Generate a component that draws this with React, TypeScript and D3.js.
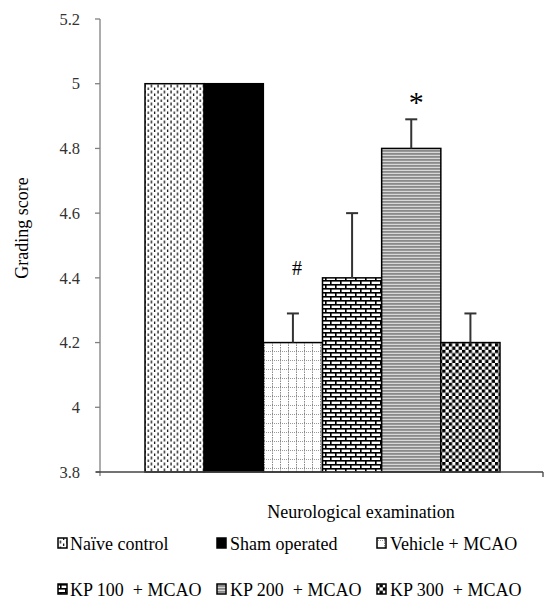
import React from "react";
import * as d3 from "d3";

const categories = ["Naïve control", "Sham operated", "Vehicle + MCAO", "KP 100  + MCAO", "KP 200  + MCAO", "KP 300  + MCAO"];
const values = [5.0, 5.0, 4.2, 4.4, 4.8, 4.2];
const errors = [0, 0, 0.09, 0.2, 0.09, 0.09];
const marks = ["", "", "#", "", "*", ""];
const yTicks = [3.8, 4, 4.2, 4.4, 4.6, 4.8, 5, 5.2];
const fills = ["url(#pDash)", "#000", "url(#pGrid)", "url(#pBrick)", "url(#pStripe)", "url(#pCheck)"];

const W = 554, H = 599;
const FONT = "'Liberation Serif', 'Times New Roman', serif";

export default function App() {
  const y = d3.scaleLinear().domain([3.8, 5.2]).range([472, 19]);
  const x = d3.scaleBand<string>().domain(categories).range([145, 500]).padding(0);
  const bw = x.bandwidth();
  const legendX = [58, 217, 377];
  const legendTextX = [70, 230, 390];
  const legendY = [550, 596];

  return (
    <svg width={W} height={H} style={{ position: "absolute", left: 0, top: 0, background: "#fff" }}>
      <defs>
        <pattern id="pDash" width="6.5" height="6" patternUnits="userSpaceOnUse">
          <rect width="6.5" height="6" fill="#fff" />
          <line x1="2" y1="0.5" x2="2" y2="3.5" stroke="#000" strokeWidth="1.2" />
          <line x1="5.2" y1="3.5" x2="5.2" y2="6.5" stroke="#000" strokeWidth="1.2" />
        </pattern>
        <pattern id="pGrid" width="8" height="9" patternUnits="userSpaceOnUse">
          <rect width="8" height="9" fill="#fff" />
          <line x1="0" y1="0.5" x2="8" y2="0.5" stroke="#999" strokeWidth="1" strokeDasharray="1 1" />
          <line x1="0.5" y1="0" x2="0.5" y2="9" stroke="#888" strokeWidth="1" strokeDasharray="1.5 1" />
        </pattern>
        <pattern id="pBrick" width="10" height="8" patternUnits="userSpaceOnUse">
          <rect width="10" height="8" fill="#fff" />
          <rect x="0" y="0" width="10" height="1.6" fill="#000" />
          <rect x="0" y="4" width="10" height="1.6" fill="#000" />
          <rect x="0" y="0" width="1.6" height="4" fill="#000" />
          <rect x="5" y="4" width="1.6" height="4" fill="#000" />
        </pattern>
        <pattern id="pStripe" width="4" height="3" patternUnits="userSpaceOnUse">
          <rect width="4" height="3" fill="#8a8a8a" />
          <rect y="1.8" width="4" height="1.2" fill="#d8d8d8" />
        </pattern>
        <pattern id="pCheck" width="6.6" height="6.6" patternUnits="userSpaceOnUse">
          <rect width="6.6" height="6.6" fill="#fff" />
          <rect x="0" y="0" width="3.3" height="3.3" fill="#000" />
          <rect x="3.3" y="3.3" width="3.3" height="3.3" fill="#000" />
        </pattern>
      </defs>

      {/* y axis */}
      <line x1={100} y1={y(5.2)} x2={100} y2={y(3.8) + 4} stroke="#808080" strokeWidth={1.3} />
      {yTicks.map((t) => (
        <g key={t}>
          <line x1={95} x2={100} y1={y(t)} y2={y(t)} stroke="#808080" strokeWidth={1.3} />
          <text x={80} y={y(t)} dy="0.35em" textAnchor="end" fontFamily={FONT} fontSize={16.5} fill="#333">
            {d3.format("")(t)}
          </text>
        </g>
      ))}
      <text transform={`translate(28,228) rotate(-90)`} textAnchor="middle" fontFamily={FONT} fontSize={18} fill="#000">
        Grading score
      </text>

      {/* bars */}
      {categories.map((c, i) => (
        <rect key={c} x={x(c)} y={y(values[i])} width={bw} height={y(3.8) - y(values[i])}
          fill={fills[i]} stroke="#000" strokeWidth={1.5} />
      ))}

      {/* x axis */}
      <line x1={96} x2={543} y1={y(3.8)} y2={y(3.8)} stroke="#444" strokeWidth={1.3} />
      <line x1={543} x2={543} y1={y(3.8)} y2={y(3.8) + 5} stroke="#444" strokeWidth={1.3} />

      {/* error bars */}
      {categories.map((c, i) => errors[i] > 0 ? (
        <g key={"e" + c} stroke="#333" strokeWidth={2}>
          <line x1={x(c)! + bw / 2} x2={x(c)! + bw / 2} y1={y(values[i])} y2={y(values[i] + errors[i])} />
          <line x1={x(c)! + bw / 2 - 6} x2={x(c)! + bw / 2 + 6} y1={y(values[i] + errors[i])} y2={y(values[i] + errors[i])} />
        </g>
      ) : null)}

      {/* significance marks */}
      {categories.map((c, i) => marks[i] ? (
        <text key={"m" + c} x={x(c)! + bw / 2 + (marks[i] === "*" ? 5 : 4)} y={y(values[i] + errors[i]) - (marks[i] === "*" ? 7 : 38)}
          textAnchor="middle" fontFamily={FONT} fontSize={marks[i] === "*" ? 30 : 20} fill="#000">
          {marks[i]}
        </text>
      ) : null)}

      <text x={361} y={518} textAnchor="middle" fontFamily={FONT} fontSize={18} fill="#000">Neurological examination</text>

      {/* legend */}
      {categories.map((c, i) => {
        const ly = legendY[Math.floor(i / 3)];
        return (
          <g key={"l" + c}>
            <rect x={legendX[i % 3]} y={ly - 12} width={9} height={10} fill={fills[i]} stroke="#000" strokeWidth={1.5} />
            <text x={legendTextX[i % 3]} y={ly} fontFamily={FONT} fontSize={18} fill="#000" style={{ whiteSpace: "pre" }}>{c}</text>
          </g>
        );
      })}
    </svg>
  );
}
